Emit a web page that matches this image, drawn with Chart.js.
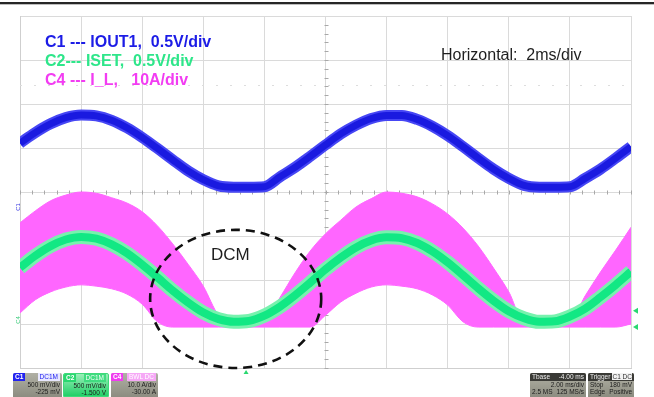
<!DOCTYPE html>
<html>
<head>
<meta charset="utf-8">
<script src="https://cdn.jsdelivr.net/npm/chart.js@4.4.1/dist/chart.umd.min.js"></script>
<style>
  body { margin: 0; background: #fff; }
  #wrap { position: relative; width: 654px; height: 397px; overflow: hidden; font-family: "Liberation Sans", Arial, sans-serif; }
  #scope { position: absolute; left: 0; top: 0; }
  .topline { position: absolute; left: 0; top: 2px; width: 654px; height: 2px; background: #262626; border-bottom: 1px solid #bdbdbd; }
  .lbl { position: absolute; white-space: pre; font-size: 16px; line-height: 19px; }
  .bold { font-weight: bold; }
  .box { position: absolute; top: 373px; height: 24px; font-size: 6.5px; line-height: 7.6px; color: #1b1b1b; text-align: right; border-radius: 2px 2px 0 0; overflow: hidden; }
  .box .row { padding-right: 2px; height: 7.6px; white-space: nowrap; }
  .tag { float: left; padding: 0 2px; color: #fff; font-weight: bold; }
  .tag2 { display: inline-block; padding: 0 2px; margin-left: 2px; }
  .l { float: left; padding-left: 2px; }
</style>
</head>
<body>
<div id="wrap">
  <canvas id="scope" width="654" height="397"></canvas>
  <div class="topline"></div>

  <div class="lbl bold" style="left:45px; top:32px; color:#1c1ce6;">C1 --- IOUT1,  0.5V/div</div>
  <div class="lbl bold" style="left:45px; top:51px; color:#2ee68a;">C2--- ISET,  0.5V/div</div>
  <div class="lbl bold" style="left:45px; top:70px; color:#f23cf2;">C4 --- I_L,   10A/div</div>
  <div class="lbl" style="left:441px; top:45px; color:#1e1e1e;">Horizontal:  2ms/div</div>
  <div class="lbl" style="left:211px; top:245px; color:#1e1e1e; font-size:17px;">DCM</div>

  <div style="position:absolute; left:14px; top:204px; font-size:6px; color:#3a3ae0; transform:rotate(-90deg);">C1</div>
  <div style="position:absolute; left:14px; top:317px; font-size:6px; color:#39c979; transform:rotate(-90deg);">C4</div>

  <div class="box" style="left:13px; width:49px; background:linear-gradient(#b0b0a4,#8c8c80);">
    <div class="row"><span class="tag" style="background:#2323f0;">C1</span><span class="tag2" style="background:#e8e8ff; color:#2323f0;">DC1M</span></div>
    <div class="row">500 mV/div</div>
    <div class="row">-225 mV</div>
  </div>
  <div class="box" style="left:63px; width:46px; background:linear-gradient(#9aeeb8,#22d068); border:1px solid #3fd97a; box-sizing:border-box;">
    <div class="row"><span class="tag" style="background:#2ad870;">C2</span><span class="tag2" style="background:#40dc80; color:#f4fff8;">DC1M</span></div>
    <div class="row">500 mV/div</div>
    <div class="row">-1.500 V</div>
  </div>
  <div class="box" style="left:111px; width:47px; background:linear-gradient(#b0b0a4,#8c8c80);">
    <div class="row"><span class="tag" style="background:#f03cf0;">C4</span><span class="tag2" style="background:#f6a8f6; color:#fff;">BWL DC</span></div>
    <div class="row">10.0 A/div</div>
    <div class="row">-30.00 A</div>
  </div>

  <div class="box" style="left:530px; width:56px; background:linear-gradient(#b0b0a4,#8c8c80);">
    <div class="row" style="background:#3a3a36; color:#eee;"><span class="l">Tbase</span>-4.00 ms</div>
    <div class="row">2.00 ms/div</div>
    <div class="row"><span class="l">2.5 MS</span>125 MS/s</div>
  </div>
  <div class="box" style="left:588px; width:46px; background:linear-gradient(#b0b0a4,#8c8c80);">
    <div class="row" style="background:#3a3a36; color:#eee;"><span class="l">Trigger</span><span style="background:#f2f2f2; color:#333;">C1 DC</span></div>
    <div class="row"><span class="l">Stop</span>180 mV</div>
    <div class="row"><span class="l">Edge</span>Positive</div>
  </div>
</div>

<script>
// time axis, ms (2 ms/div, 10 div)
const timeMs = [0, 0.5, 1, 1.5, 2, 2.5, 3, 3.5, 4, 4.5, 5, 5.5, 6, 6.5, 7, 7.5, 8, 8.5, 9, 9.5,
  10, 10.5, 11, 11.5, 12, 12.5, 13, 13.5, 14, 14.5, 15, 15.5, 16, 16.5, 17, 17.5, 18, 18.5, 19, 19.5, 20];

// traces in divisions (centre line = 0)
const iout1 = [1.11, 1.35, 1.55, 1.69, 1.75, 1.73, 1.63, 1.46, 1.24, 0.99, 0.73, 0.48, 0.28, 0.14, 0.11, 0.11, 0.12, 0.34, 0.56, 0.81,
  1.07, 1.32, 1.52, 1.67, 1.74, 1.74, 1.65, 1.49, 1.28, 1.03, 0.77, 0.52, 0.31, 0.15, 0.11, 0.11, 0.12, 0.31, 0.52, 0.77, 1.03];
const iset = [-1.72, -1.45, -1.23, -1.08, -1.02, -1.06, -1.19, -1.39, -1.65, -1.94, -2.24, -2.51, -2.74, -2.89, -2.95, -2.93, -2.81, -2.61, -2.35, -2.06,
  -1.76, -1.49, -1.26, -1.10, -1.03, -1.05, -1.16, -1.35, -1.60, -1.89, -2.19, -2.47, -2.71, -2.87, -2.95, -2.94, -2.83, -2.65, -2.39, -2.11, -1.81];
// I_L ripple band: upper and lower envelope
const ilUpper = [-0.70, -0.43, -0.20, -0.07, 0.00, -0.03, -0.13, -0.25, -0.45, -0.77, -1.18, -1.64, -2.14, -2.80, -2.95, -2.95, -2.95, -2.41, -1.84, -1.34,
  -0.95, -0.64, -0.34, -0.15, 0.00, -0.03, -0.11, -0.27, -0.50, -0.82, -1.23, -1.73, -2.27, -2.95, -2.95, -2.95, -2.95, -2.36, -1.82, -1.32, -0.80];
const ilLower = [-2.75, -2.45, -2.27, -2.16, -2.11, -2.14, -2.20, -2.32, -2.55, -2.95, -3.07, -3.07, -3.07, -3.07, -3.07, -3.07, -3.07, -3.07, -3.07, -3.07,
  -2.80, -2.50, -2.30, -2.16, -2.11, -2.14, -2.20, -2.34, -2.57, -2.95, -3.07, -3.07, -3.07, -3.07, -3.07, -3.07, -3.07, -3.07, -3.07, -3.07, -3.00];

// DCM annotation ellipse (ms / div)
const dcmCentre = { t: 7.06, v: -2.43 };
const dcmRadius = { t: 2.80, v: 1.57 };
const triggerLevel = 2.43;

const pts = arr => arr.map((v, i) => ({ x: timeMs[i], y: v }));

const line = (data, color, width) => ({
  data: pts(data),
  borderColor: color,
  borderWidth: width,
  pointRadius: 0,
  fill: false,
  cubicInterpolationMode: 'monotone'
});

const overlay = {
  id: 'overlay',
  beforeDatasetsDraw(chart) {
    const { ctx, scales: { x, y } } = chart;
    ctx.save();
    ctx.strokeStyle = '#a8a8a8';
    ctx.lineWidth = 1;
    // minor ticks on the centre cross
    const y0 = Math.round(y.getPixelForValue(0)) + 0.5;
    const x0 = Math.round(x.getPixelForValue(10)) + 0.5;
    ctx.beginPath();
    for (let t = 0; t <= 20; t += 0.4) {
      const px = Math.round(x.getPixelForValue(t)) + 0.5;
      ctx.moveTo(px, y0 - 2); ctx.lineTo(px, y0 + 2);
    }
    for (let v = -4; v <= 4; v += 0.2) {
      const py = Math.round(y.getPixelForValue(v)) + 0.5;
      ctx.moveTo(x0 - 2, py); ctx.lineTo(x0 + 2, py);
    }
    ctx.stroke();
    // trigger level, faint dots
    ctx.strokeStyle = '#dddddd';
    ctx.setLineDash([2, 12]);
    const py = Math.round(y.getPixelForValue(triggerLevel)) + 0.5;
    ctx.beginPath();
    ctx.moveTo(x.left, py); ctx.lineTo(x.right, py);
    ctx.stroke();
    ctx.restore();
  },
  afterDatasetsDraw(chart) {
    const { ctx, scales: { x, y } } = chart;
    const cx = x.getPixelForValue(dcmCentre.t);
    const cy = y.getPixelForValue(dcmCentre.v);
    const rx = x.getPixelForValue(dcmCentre.t + dcmRadius.t) - cx;
    const ry = cy - y.getPixelForValue(dcmCentre.v + dcmRadius.v);
    ctx.save();
    ctx.strokeStyle = '#111';
    ctx.lineWidth = 2.6;
    ctx.setLineDash([9, 6]);
    ctx.beginPath();
    ctx.ellipse(cx, cy, rx, ry, 0, 0, Math.PI * 2);
    ctx.stroke();
    // trigger position marker under the graticule
    const tx = x.getPixelForValue(7.4);
    ctx.setLineDash([]);
    ctx.fillStyle = '#2ad870';
    ctx.beginPath();
    ctx.moveTo(tx - 2.5, y.bottom + 6); ctx.lineTo(tx + 2.5, y.bottom + 6); ctx.lineTo(tx, y.bottom + 2);
    ctx.fill();
    // right-hand level arrows
    [-2.70, -3.07].forEach(v => {
      const ay = y.getPixelForValue(v);
      ctx.beginPath();
      ctx.moveTo(x.right + 2, ay); ctx.lineTo(x.right + 7, ay - 3); ctx.lineTo(x.right + 7, ay + 3);
      ctx.fill();
    });
    ctx.restore();
  }
};

document.addEventListener('DOMContentLoaded', () => {
  const ctx = document.getElementById('scope').getContext('2d');
  new Chart(ctx, {
    type: 'line',
    data: {
      datasets: [
        line(iout1, '#1a1ae0', 7),
        line(iout1, '#4646f4', 11),
        line(iset, '#12e884', 8),
        line(iset, '#78f2ae', 14),
        Object.assign(line(ilUpper, '#ff66ff', 1), { fill: '+1', backgroundColor: '#ff66ff' }),
        line(ilLower, '#ff66ff', 1)
      ]
    },
    options: {
      responsive: false,
      animation: false,
      devicePixelRatio: 1,
      layout: { padding: { left: 20, right: 23, top: 16, bottom: 29 } },
      scales: {
        x: {
          type: 'linear', min: 0, max: 20,
          ticks: { display: false, stepSize: 2 },
          grid: { color: '#dadada', drawTicks: false },
          border: { color: '#cfcfcf' }
        },
        y: {
          min: -4, max: 4,
          ticks: { display: false, stepSize: 1 },
          grid: { color: '#dadada', drawTicks: false },
          border: { color: '#cfcfcf' }
        }
      },
      plugins: {
        legend: { display: false },
        tooltip: { enabled: false }
      }
    },
    plugins: [overlay]
  });
});
</script>
</body>
</html>
